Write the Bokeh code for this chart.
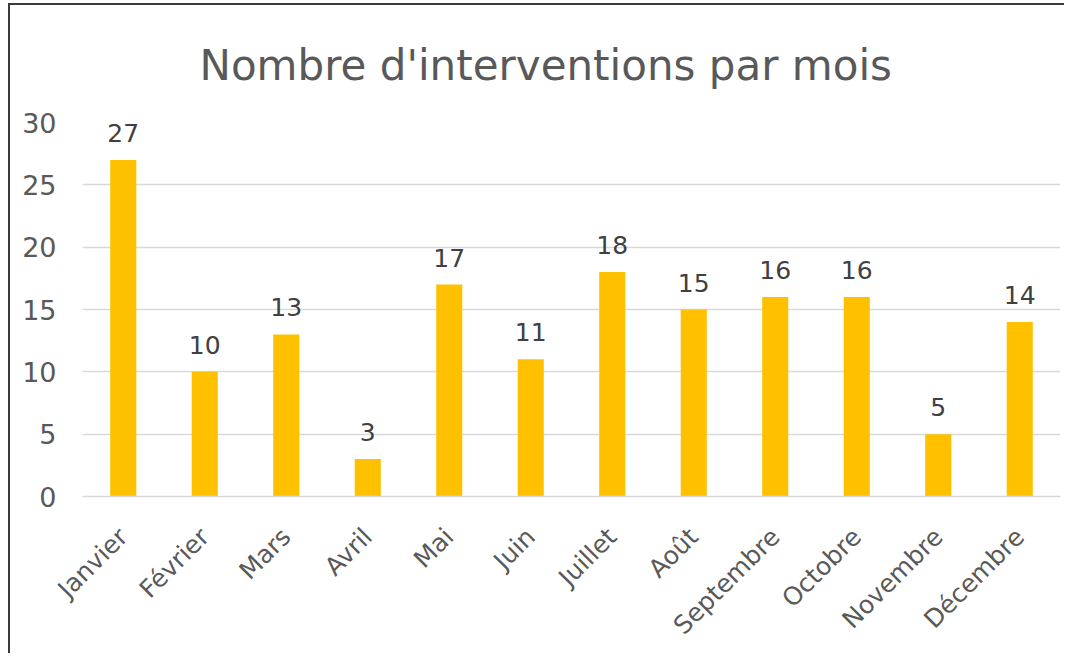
import math
from bokeh.plotting import figure
from bokeh.models import ColumnDataSource, LabelSet, FixedTicker
from bokeh.core.properties import value
from bokeh.embed import file_html
from bokeh.resources import INLINE

months = ["Janvier", "Février", "Mars", "Avril", "Mai", "Juin", "Juillet",
          "Août", "Septembre", "Octobre", "Novembre", "Décembre"]
counts = [27, 10, 13, 3, 17, 11, 18, 15, 16, 16, 5, 14]
y_ticks = [0, 5, 10, 15, 20, 25, 30]
title_text = "Nombre d'interventions par mois"

FONT = "DejaVu Sans"
TXT = "#595959"

src = ColumnDataSource(dict(month=months, count=counts,
                            label=[str(c) for c in counts]))

p = figure(x_range=months, y_range=(0, 30), width=1056, height=650,
           output_backend="svg", toolbar_location=None,
           min_border_left=72, min_border_right=6,
           min_border_top=100, min_border_bottom=159)
p.styles = {"border-top": "2px solid #3a3a3a", "border-left": "2px solid #3a3a3a",
            "margin-left": "8px", "margin-top": "3px"}
p.outline_line_color = None
p.background_fill_color = "white"
p.border_fill_color = "white"

p.title.text = title_text
p.title.align = "left"
p.title.offset = 117
p.title.text_font = FONT
p.title.text_font_size = "42px"
p.title.text_font_style = "normal"
p.title.text_color = TXT
p.title.standoff = 66

p.vbar(x="month", top="count", width=0.32, source=src,
       fill_color="#FFC000", line_color=None)

labels = LabelSet(x="month", y="count", text="label", source=src,
                  text_align="center", text_baseline="bottom", y_offset=18,
                  text_font=value(FONT), text_font_size=value("25px"),
                  text_color="#404040")
p.add_layout(labels)

p.xgrid.grid_line_color = None
p.ygrid.grid_line_color = "#d9d9d9"
p.ygrid.grid_line_width = 1.5
p.yaxis.ticker = FixedTicker(ticks=y_ticks)
p.yaxis.axis_line_color = None
p.yaxis.major_tick_line_color = None
p.yaxis.minor_tick_line_color = None
p.yaxis.major_label_text_font = FONT
p.yaxis.major_label_text_font_size = "27px"
p.yaxis.major_label_text_color = TXT
p.yaxis.major_label_standoff = 20

p.xaxis.axis_line_color = "#d9d9d9"
p.xaxis.axis_line_width = 1.5
p.xaxis.major_tick_line_color = None
p.xaxis.minor_tick_line_color = None
p.xaxis.major_label_orientation = math.pi / 4
p.xaxis.major_label_text_font = FONT
p.xaxis.major_label_text_font_size = "25px"
p.xaxis.major_label_text_color = TXT
p.xaxis.major_label_standoff = 30
p.x_range.range_padding = 0

open("out.html", "w").write(file_html(p, INLINE))
